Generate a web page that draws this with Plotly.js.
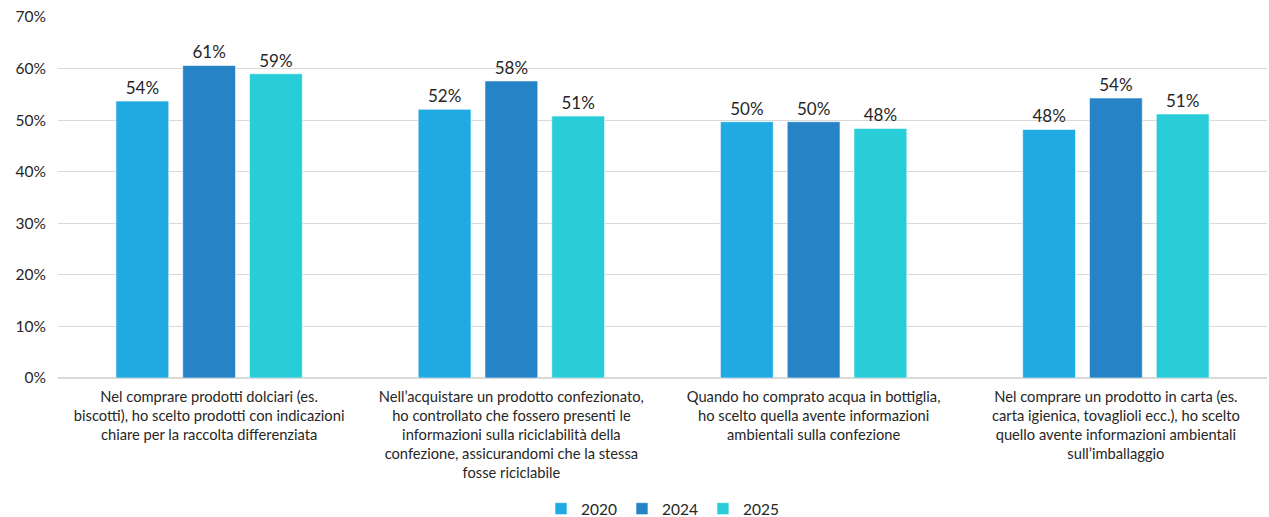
<!DOCTYPE html>
<html>
<head>
<meta charset="utf-8">
<script src="https://cdn.plot.ly/plotly-3.0.1.min.js"></script>
<style>html,body{margin:0;padding:0;background:#fff}#chart{width:1269px;height:517px}</style>
</head>
<body>
<div id="chart"></div>
<script>
const categories = [
  "Nel comprare prodotti dolciari (es.<br>biscotti), ho scelto prodotti con indicazioni<br>chiare per la raccolta differenziata",
  "Nell’acquistare un prodotto confezionato,<br>ho controllato che fossero presenti le<br>informazioni sulla riciclabilità della<br>confezione, assicurandomi che la stessa<br>fosse riciclabile",
  "Quando ho comprato acqua in bottiglia,<br>ho scelto quella avente informazioni<br>ambientali sulla confezione",
  "Nel comprare un prodotto in carta (es.<br>carta igienica, tovaglioli ecc.), ho scelto<br>quello avente informazioni ambientali<br>sull’imballaggio"
];
const seriesNames = ["2020", "2024", "2025"];
const values2020 = [53.7, 52.1, 49.7, 48.2];
const values2024 = [60.6, 57.6, 49.7, 54.3];
const values2025 = [59.0, 50.8, 48.4, 51.2];
const colors = ["#1FAAE2", "#2683C6", "#28CDD8"];
const yTicks = [0, 10, 20, 30, 40, 50, 60, 70];

const font = "Lato, 'Open Sans', sans-serif";
const allValues = [values2020, values2024, values2025];
const data = allValues.map((vals, i) => ({
  type: "bar",
  name: seriesNames[i],
  x: categories,
  y: vals,
  marker: {color: colors[i], line: {color: "rgba(255,255,255,0.6)", width: 1}},
  text: vals.map(v => Math.round(v) + "%"),
  textposition: "outside",
  textfont: {family: font, size: 17, color: "#262626"},
  cliponaxis: false,
  hoverinfo: "skip"
}));

const layout = {
  width: 1269, height: 517,
  margin: {l: 58, r: 2, t: 17, b: 139, autoexpand: false},
  paper_bgcolor: "#fff", plot_bgcolor: "#fff",
  barmode: "group",
  bargap: 0.337,
  bargroupgap: 0.209,
  font: {family: font, size: 14, color: "#262626"},
  xaxis: {
    type: "category",
    showgrid: false,
    showline: false,
    ticks: "",
    ticklabelstandoff: 8,
    tickfont: {family: font, size: 14.7, color: "#262626"},
    automargin: false
  },
  yaxis: {
    range: [0, 70],
    tickvals: yTicks,
    ticktext: yTicks.map(v => v + "%"),
    showgrid: true,
    gridcolor: "#D9D9D9",
    gridwidth: 1,
    zeroline: true,
    zerolinecolor: "#D9D9D9",
    zerolinewidth: 1.5,
    showline: false,
    ticks: "",
    ticklabelstandoff: 11,
    tickfont: {family: font, size: 15.5, color: "#262626"},
    automargin: false
  },
  showlegend: true,
  legend: {
    orientation: "h",
    x: 0.5, xanchor: "center",
    y: -0.316, yanchor: "top",
    font: {family: font, size: 15.5, color: "#262626"},
    traceorder: "normal"
  }
};

Plotly.newPlot("chart", data, layout, {displayModeBar: false, staticPlot: true});
</script>
</body>
</html>
